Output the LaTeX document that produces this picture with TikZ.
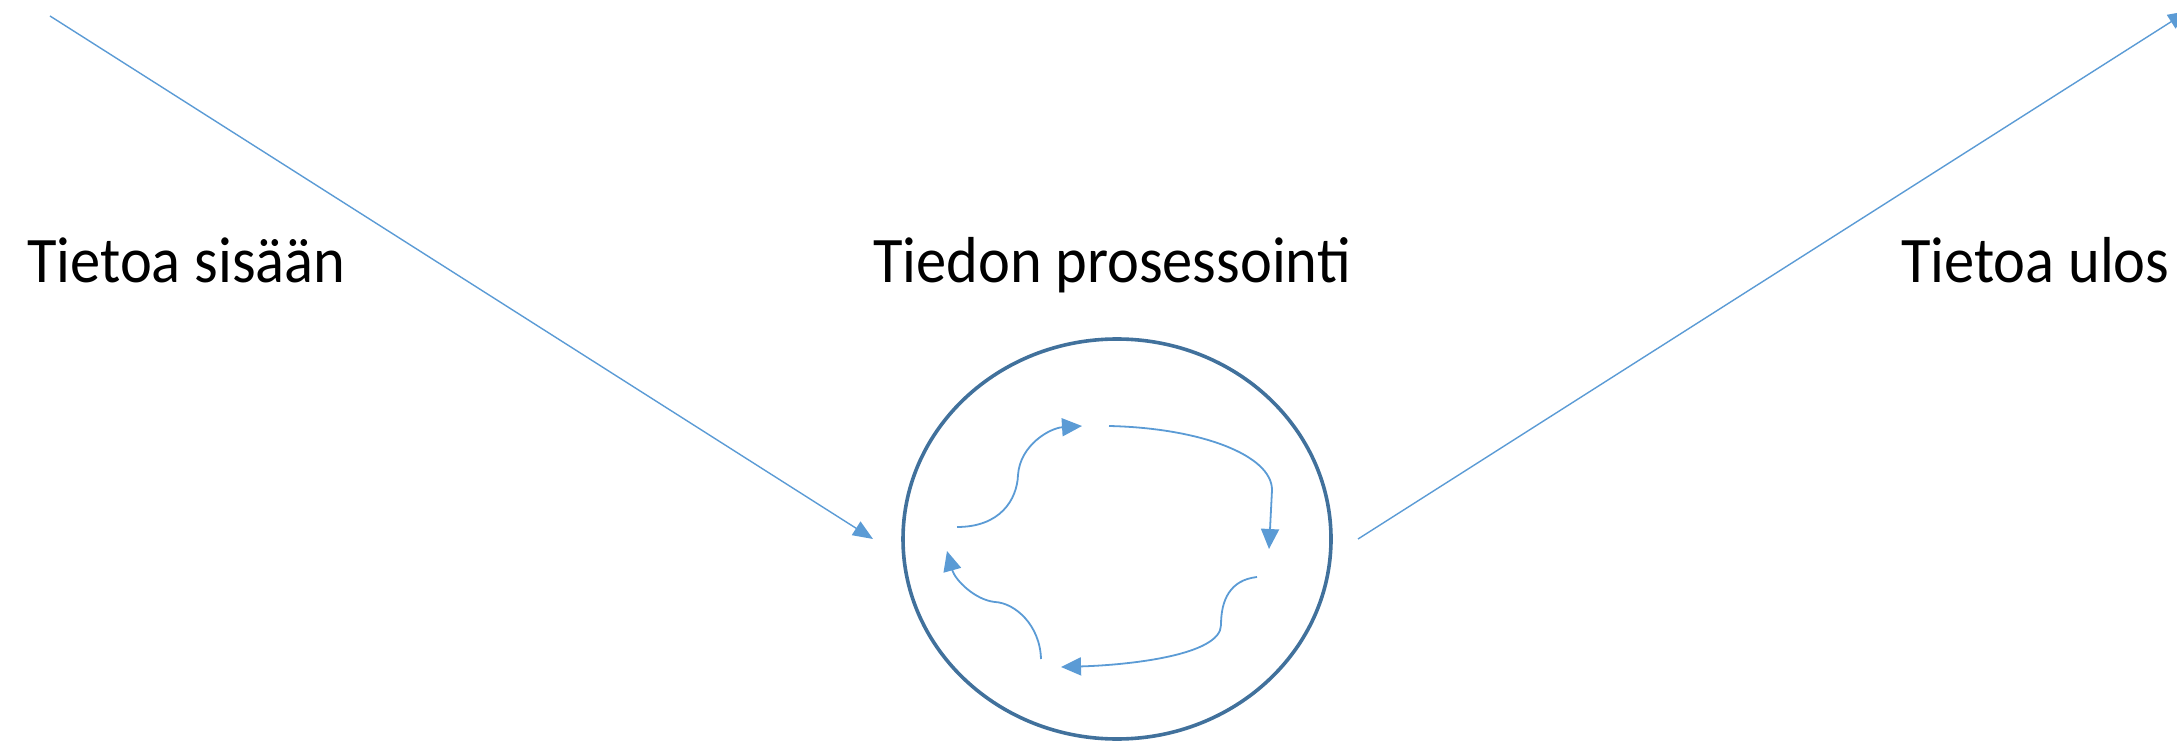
\documentclass[tikz,border=0pt]{standalone}
\usepackage{fontspec}
\setmainfont{Carlito}
\newfontfamily\lblfont[FakeStretch=0.93]{Carlito}
\usetikzlibrary{arrows.meta,shapes.geometric}
\definecolor{lineblue}{HTML}{5B9BD5}
\definecolor{ringblue}{HTML}{41719C}
\tikzset{
  label/.style={font=\lblfont\fontsize{32.5}{38}\selectfont, inner sep=0pt, text=black},
  bigarrow/.style={draw=lineblue, line width=0.7pt, -{Triangle[length=10pt,width=8pt]}},
  loop/.style={draw=lineblue, line width=0.9pt, -{Triangle[length=10pt,width=9pt]}},
  ring/.style={ellipse, draw=ringblue, line width=1.8pt, minimum width=214pt, minimum height=200pt, inner sep=0pt}
}
\begin{document}
\begin{tikzpicture}[x=0.5pt,y=-0.5pt]
\useasboundingbox (0,0) rectangle (2177,742);
\node[label, anchor=base west] (tin) at (27,283) {Tietoa sisään};
\node[label, anchor=base] (tproc) at (1112,283) {Tiedon prosessointi};
\node[label, anchor=base east] (tout) at (2170,283) {Tietoa ulos};
\node[ring] (circ) at (1117,539) {};
\coordinate (inA) at (50,16);
\coordinate (inB) at (873,539);
\coordinate (outA) at (1358,539);
\coordinate (outB) at (2188,11);
\draw[bigarrow] (inA) -- (inB);
\draw[bigarrow] (outA) -- (outB);
\coordinate (a1) at (957,527);
\coordinate (b1) at (1082,426);
\coordinate (a2) at (1109,426);
\coordinate (b2) at (1269,549);
\coordinate (a3) at (1257,577);
\coordinate (b3) at (1061,667);
\coordinate (a4) at (1041,659);
\coordinate (b4) at (947,551);
\draw[loop] (a1) .. controls (1000,527) and (1017,500) .. (1018,475) .. controls (1020,445) and (1050,428) .. (b1);
\draw[loop] (a2) .. controls (1200,428) and (1272,455) .. (1272,490) -- (b2);
\draw[loop] (a3) .. controls (1230,580) and (1221,600) .. (1221,625) .. controls (1221,655) and (1130,665) .. (b3);
\draw[loop] (a4) .. controls (1040,625) and (1015,603) .. (995,602) .. controls (975,600) and (955,580) .. (b4);
\end{tikzpicture}
\end{document}
